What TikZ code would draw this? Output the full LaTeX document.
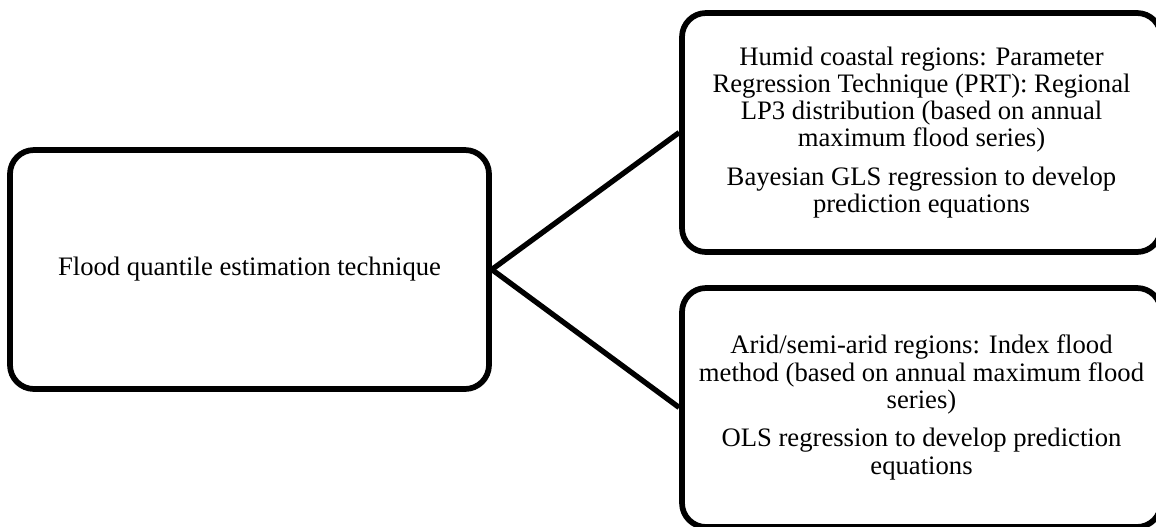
\documentclass[tikz,border=0pt]{standalone}
\usepackage{fontspec}
\setmainfont{Liberation Serif}
\begin{document}
\begin{tikzpicture}[x=0.75pt,y=-0.75pt,
  box/.style={draw=black, line width=4.3pt, rounded corners=18pt, fill=none,
    minimum width=359.25pt, minimum height=179.25pt, inner sep=0pt,
    align=center, font=\fontsize{20}{20.4}\selectfont},
  link/.style={draw=black, line width=4pt}]
\useasboundingbox (0,0) rectangle (1156,526);
\fill[white] (0,0) rectangle (1156,526);
\node[box] (L) at (249.5,269.5) {Flood quantile estimation technique};
\node[box] (T) at (921.5,132.5) {Humid coastal regions: Parameter\\Regression Technique (PRT): Regional\\LP3 distribution (based on annual\\maximum flood series)\\[8.5pt]Bayesian GLS regression to develop\\prediction equations};
\node[box] (B) at (921.5,407.5) {Arid/semi-arid regions: Index flood\\method (based on annual maximum flood\\series)\\[8.5pt]OLS regression to develop prediction\\equations};
\draw[link] (L.east) -- (T.west);
\draw[link] (L.east) -- (B.west);
\end{tikzpicture}
\end{document}
